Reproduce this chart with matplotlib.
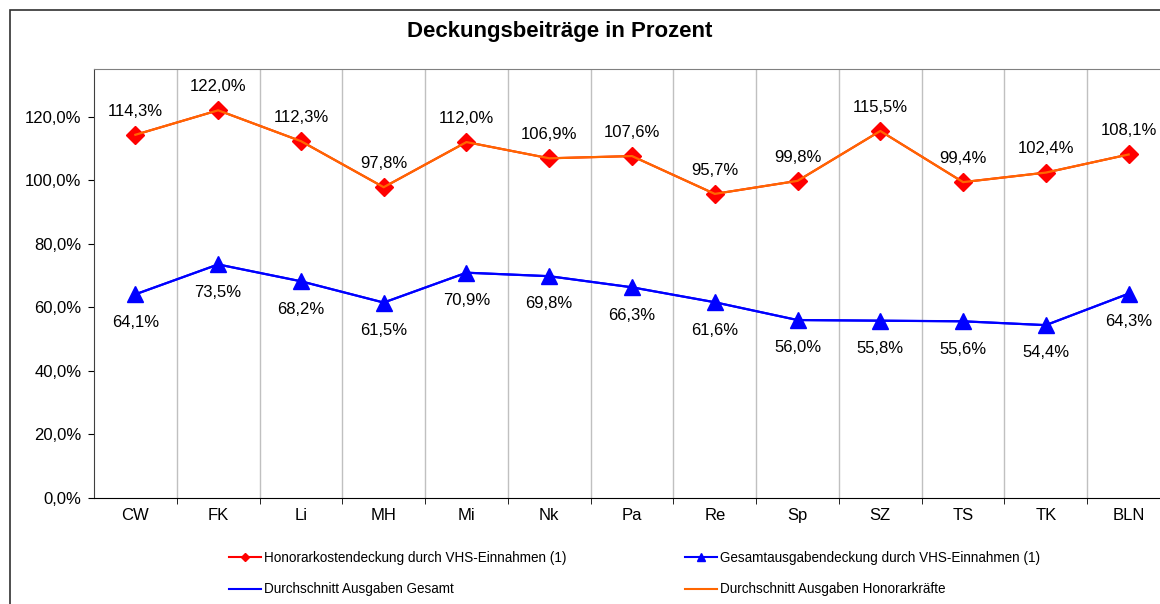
import matplotlib
matplotlib.use('Agg')
import matplotlib.pyplot as plt
from matplotlib.lines import Line2D
from matplotlib.patches import Rectangle
from matplotlib.ticker import FuncFormatter, FixedLocator

plt.rcParams['font.family'] = ['Liberation Sans', 'DejaVu Sans']

bezirke = ['CW', 'FK', 'Li', 'MH', 'Mi', 'Nk', 'Pa', 'Re', 'Sp', 'SZ', 'TS', 'TK', 'BLN']
honorar = [114.3, 122.0, 112.3, 97.8, 112.0, 106.9, 107.6, 95.7, 99.8, 115.5, 99.4, 102.4, 108.1]
gesamt = [64.1, 73.5, 68.2, 61.5, 70.9, 69.8, 66.3, 61.6, 56.0, 55.8, 55.6, 54.4, 64.3]
y_ticks = [0, 20, 40, 60, 80, 100, 120]

def pct(v):
    return f'{v:.1f}%'.replace('.', ',')

W, H = 1160, 604
fig = plt.figure(figsize=(W / 100, H / 100), dpi=100)
ax = fig.add_axes([94 / W, 1 - 498 / H, (1170 - 94) / W, (498 - 69) / H])

x = list(range(len(bezirke)))

# markers first, average lines drawn on top in the same style as the original
ax.plot(x, honorar, color='red', lw=1.5, marker='D', ms=9, zorder=3)
ax.plot(x, gesamt, color='blue', lw=1.5, marker='^', ms=12, zorder=3)
ax.plot(x, honorar, color='#FF6600', lw=1.6, zorder=4)
ax.plot(x, gesamt, color='blue', lw=1.6, zorder=4)

for i, v in enumerate(honorar):
    ax.annotate(pct(v), (i, v), xytext=(0, 17), textcoords='offset points',
                ha='center', va='center', fontsize=12)
for i, v in enumerate(gesamt):
    ax.annotate(pct(v), (i, v), xytext=(0, -20), textcoords='offset points',
                ha='center', va='center', fontsize=12)

ax.set_xlim(-0.5, len(bezirke) - 0.5)
ax.set_ylim(0, 135)
ax.set_xticks(x)
ax.set_xticklabels(bezirke, fontsize=12)
ax.xaxis.set_minor_locator(FixedLocator([i + 0.5 for i in range(len(bezirke) - 1)]))
ax.tick_params(axis='x', which='major', length=0, pad=7)
ax.tick_params(axis='x', which='minor', length=4, color='black', direction='out')
ax.grid(axis='x', which='minor', color='#C0C0C0', lw=1)
ax.set_yticks(y_ticks)
ax.yaxis.set_major_formatter(FuncFormatter(lambda v, p: pct(v)))
ax.tick_params(axis='y', length=4, direction='out', labelsize=12, pad=5)

ax.spines['left'].set_color('#404040')
ax.spines['bottom'].set_color('black')
ax.spines['top'].set_color('#808080')
ax.spines['right'].set_visible(False)

fig.text(560 / W, 1 - 32 / H, 'Deckungsbeiträge in Prozent', ha='center', va='center',
         fontsize=16, fontweight='bold')

fig.patches.append(Rectangle((10 / W, -0.1), 1.2, (H - 10) / H + 0.1, transform=fig.transFigure,
                             fill=False, edgecolor='#303030', lw=1.2))

h1 = Line2D([], [], color='red', lw=1.5, marker='D', ms=4)
h2 = Line2D([], [], color='blue', lw=1.5)
h3 = Line2D([], [], color='blue', lw=1.5, marker='^', ms=6)
h4 = Line2D([], [], color='#FF6600', lw=1.5)
leg_kw = dict(loc='upper left', frameon=False, borderpad=0,
              labelspacing=1.3, handlelength=2.4, handletextpad=0.2,
              prop={'family': ['Liberation Sans', 'DejaVu Sans'], 'size': 9.75})
fig.legend([h1, h2], ['Honorarkostendeckung durch VHS-Einnahmen (1)', 'Durchschnitt Ausgaben Gesamt'],
           bbox_to_anchor=(222 / W, 1 - 544 / H), **leg_kw)
fig.legend([h3, h4], ['Gesamtausgabendeckung durch VHS-Einnahmen (1)', 'Durchschnitt Ausgaben Honorarkräfte'],
           bbox_to_anchor=(678 / W, 1 - 544 / H), **leg_kw)

fig.savefig('out.png', dpi=100)
